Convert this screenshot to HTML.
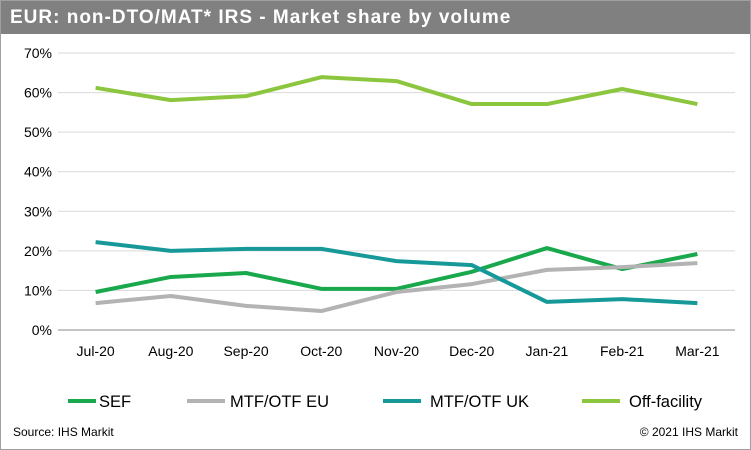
<!DOCTYPE html>
<html><head><meta charset="utf-8"><style>
body{margin:0;width:751px;height:450px;background:#fff;font-family:"Liberation Sans",Arial,sans-serif;overflow:hidden}
#wrap{position:absolute;left:0;top:0;width:749px;height:448px;border:1px solid #a0a0a0}
#hdr{position:absolute;left:0;top:0;width:749px;height:33px;background:#808080;color:#fff;font-weight:bold;font-size:19px;letter-spacing:1px;line-height:34px;padding-left:9px;box-sizing:border-box}
.ft{position:absolute;top:424px;font-size:12px;color:#000}
</style></head><body>
<div id="wrap">
<div id="hdr">EUR: non-DTO/MAT* IRS - Market share by volume</div>
<svg id="chart" width="751" height="450" style="position:absolute;left:-1px;top:-1px"></svg>
<div class="ft" style="left:12px">Source: IHS Markit</div>
<div class="ft" style="right:12px">© 2021 IHS Markit</div>
</div>
<script>
const categories=["Jul-20","Aug-20","Sep-20","Oct-20","Nov-20","Dec-20","Jan-21","Feb-21","Mar-21"];
const yTicks=[0,10,20,30,40,50,60,70];
const seriesNames=["SEF","MTF/OTF EU","MTF/OTF UK","Off-facility"];
const seriesColors=["#19a84b","#b3b3b3","#17999a","#8cc63f"];
const sef=[9.6,13.4,14.4,10.4,10.4,14.7,20.7,15.4,19.2];
const mtfEu=[6.8,8.6,6.1,4.8,9.6,11.6,15.2,15.9,16.9];
const mtfUk=[22.2,20,20.5,20.5,17.4,16.4,7.1,7.8,6.8];
const offFacility=[61.2,58.1,59.1,63.9,62.9,57.1,57.1,60.9,57.1];
const seriesData=[sef,mtfEu,mtfUk,offFacility];
const NS="http://www.w3.org/2000/svg";
const svg=document.getElementById('chart');
const L=58,R=735,T=53,B=330,ymax=70;
const x=i=>L+(R-L)/categories.length*(i+0.5);
const y=v=>B-(B-T)*v/ymax;
function mk(t,a){const e=document.createElementNS(NS,t);for(const k in a)e.setAttribute(k,a[k]);svg.appendChild(e);return e;}
yTicks.forEach(v=>{
  const g=mk('line',{x1:L,x2:R,y1:y(v),y2:y(v),stroke:v===0?'#888':'#d9d9d9','stroke-width':1});
  
  
  const t=mk('text',{x:L-6,y:y(v)+5,'text-anchor':'end','font-size':14,fill:'#000'});
  t.textContent=v+'%';
  
  
});
categories.forEach((c,i)=>{
  const t=mk('text',{x:x(i),y:B+26,'text-anchor':'middle','font-size':14,fill:'#000'});
  t.textContent=c;
  
  
});
seriesData.forEach((d,s)=>{
  const p=mk('polyline',{points:d.map((v,i)=>x(i)+','+y(v)).join(' '),fill:'none',stroke:seriesColors[s],'stroke-width':4,'stroke-linejoin':'round'});
  
  
});
const lx=[68,187,383,582];
const tx=[99,230,430,629];
seriesNames.forEach((n,s)=>{
  const l=mk('line',{x1:lx[s],x2:lx[s]+(s===0?28:38),y1:401,y2:401,stroke:seriesColors[s],'stroke-width':4});
  
  
  const t=mk('text',{x:tx[s],y:407,'font-size':16.5,fill:'#000'});
  t.textContent=n;
  
  
});
</script>
</body></html>
